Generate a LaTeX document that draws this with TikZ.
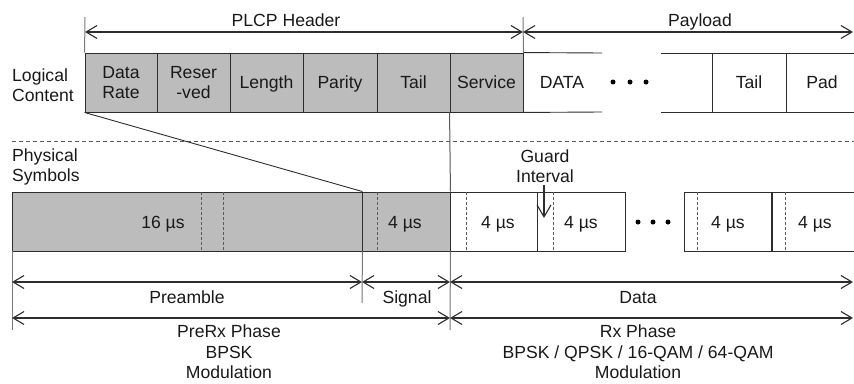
\documentclass[tikz,border=0pt]{standalone}
\usepackage{fontspec}
\setmainfont{Liberation Sans}
\usetikzlibrary{arrows.meta}
\definecolor{boxgray}{RGB}{188,188,188}
\definecolor{linec}{RGB}{45,45,45}
\definecolor{tickc}{RGB}{120,120,120}
\definecolor{dashc}{RGB}{90,90,90}
\begin{document}
\begin{tikzpicture}[x=1pt,y=-1pt,
  every node/.style={font=\fontsize{17.6}{20.5}\selectfont, inner sep=0pt, text=black!90},
  lbl/.style={text height=12.6pt, text depth=0pt},
  field/.style={draw=linec, line width=0.9pt, minimum height=59pt, fill=boxgray},
  wbox/.style={draw=linec, line width=0.9pt, minimum height=59pt},
  edge/.style={draw=linec, line width=0.9pt},
  tickl/.style={draw=tickc, line width=1pt},
  dashl/.style={draw=dashc, line width=0.8pt, dash pattern=on 3pt off 2pt},
  sepl/.style={draw=dashc, line width=0.9pt, dash pattern=on 4pt off 3pt},
  dim/.style={draw=linec, line width=1.1pt, {Straight Barb[length=11pt,width=13pt]}-{Straight Barb[length=11pt,width=13pt]}},
  dotn/.style={circle, fill=black, minimum size=5pt, inner sep=0pt}
]
\useasboundingbox (0,0) rectangle (854,383);

% ---------- Logical content ----------
\node[align=left, anchor=west] (logical) at (12,85) {Logical\\Content};
\node[field, minimum width=72pt, align=center] (f1) at (121,82.5) {Data\\Rate};
\node[field, minimum width=73pt, align=center] (f2) at (193.5,82.5) {Reser\\-ved};
\node[field, minimum width=73pt, lbl] (f3) at (266.5,82.5) {Length};
\node[field, minimum width=74pt, lbl] (f4) at (340,82.5) {Parity};
\node[field, minimum width=73pt, lbl] (f5) at (413.5,82.5) {Tail};
\node[field, minimum width=73pt, lbl] (f6) at (486.5,82.5) {Service};

\coordinate (p1t) at (602,53); \coordinate (p1b) at (602,112);
\coordinate (p2lt) at (661,53); \coordinate (p2lb) at (661,112);
\coordinate (p2rt) at (854,53); \coordinate (p2rb) at (854,112);
\draw[edge] (f6.north east) -- (p1t);
\draw[edge] (f6.south east) -- (p1b);
\draw[edge] (p2lt) -- (p2rt);
\draw[edge] (p2lb) -- (p2rb);
\coordinate (v1t) at (712,53); \coordinate (v1b) at (712,112);
\coordinate (v2t) at (786,53); \coordinate (v2b) at (786,112);
\draw[edge] (v1t) -- (v1b);
\draw[edge] (v2t) -- (v2b);
\node[lbl] (tdata) at (562,82.5) {DATA};
\node[lbl] (ttail) at (749,82.5) {Tail};
\node[lbl] (tpad) at (822,82.5) {Pad};
\node[dotn] (ld1) at (613,82) {};
\node[dotn] (ld2) at (630,82) {};
\node[dotn] (ld3) at (646,82) {};

% ---------- top dimension ----------
\coordinate (tk1a) at (85,17); \coordinate (tk2a) at (523,17);
\draw[tickl] (tk1a) -- (f1.north west);
\draw[tickl] (tk2a) -- (f6.north east);
\coordinate (plcpL) at (85,32); \coordinate (plcpR) at (523,32);
\coordinate (payR) at (853,32);
\draw[dim] (plcpL) -- (plcpR);
\draw[dim] (plcpR) -- (payR);
\node[lbl] (tplcp) at (286,20) {PLCP Header};
\node[lbl] (tpay) at (700,20) {Payload};

% ---------- separator ----------
\coordinate (sepL) at (12,141); \coordinate (sepR) at (854,141);
\draw[sepl] (sepL) -- (sepR);

% ---------- Physical symbols ----------
\node[align=left, anchor=west] (physical) at (12,167) {Physical\\Symbols};
\node[field, minimum width=350pt] (pre) at (187,221.5) {};
\node[field, minimum width=88pt] (sig) at (406,221.5) {};
\node[wbox, minimum width=175pt] (d1) at (537.5,221.5) {};
\coordinate (d2lt) at (684,192); \coordinate (d2lb) at (684,251);
\coordinate (d2rt) at (854,192); \coordinate (d2rb) at (854,251);
\draw[edge] (d2rt) -- (d2lt) -- (d2lb) -- (d2rb);

\foreach \x/\n in {201/a,223/b,377/c,466/d,553/e,697/f,785/g}{
  \coordinate (dt\n) at (\x,192); \coordinate (db\n) at (\x,251);
  \draw[dashl] (dt\n) -- (db\n);
}
\coordinate (s1t) at (537,192); \coordinate (s1b) at (537,251);
\coordinate (s2t) at (772,192); \coordinate (s2b) at (772,251);
\draw[edge] (s1t) -- (s1b);
\draw[edge, line width=1.3pt] (s2t) -- (s2b);

\node[lbl] (t16) at (163,222) {16 µs};
\node[lbl] (t4a) at (405,222) {4 µs};
\node[lbl] (t4b) at (498,222) {4 µs};
\node[lbl] (t4c) at (581,222) {4 µs};
\node[lbl] (t4d) at (728,222) {4 µs};
\node[lbl] (t4e) at (815,222) {4 µs};
\node[dotn] (pd1) at (638,222) {};
\node[dotn] (pd2) at (653,222) {};
\node[dotn] (pd3) at (668,222) {};

% mapping lines
\draw[edge] (f1.south west) -- (pre.north east);
\draw[tickl, draw=linec!80] (f6.south west) -- (sig.north east);

% guard interval
\node[align=center] (guard) at (545,166) {Guard\\Interval};
\coordinate (gtip) at (544,218);
\draw[draw=linec, line width=1.1pt, -{Straight Barb[length=12pt,width=14pt]}] (guard.south -| gtip) ++(0,2) -- (gtip);

% ---------- bottom dimensions ----------
\coordinate (b1t) at (12,251); \coordinate (b1b) at (12,330);
\coordinate (b2b) at (362,303);
\coordinate (b3b) at (450,330);
\draw[tickl] (b1t) -- (b1b);
\draw[tickl] (pre.south east) -- (b2b);
\draw[tickl] (sig.south east) -- (b3b);

\coordinate (r1a) at (12,282); \coordinate (r1b) at (362,282);
\coordinate (r1c) at (450,282); \coordinate (r1d) at (853,282);
\draw[dim] (r1a) -- (r1b);
\draw[dim] (r1b) -- (r1c);
\draw[dim] (r1c) -- (r1d);
\node[lbl] (tpream) at (187,297) {Preamble};
\node[lbl] (tsignal) at (407,297) {Signal};
\node[lbl] (tdatab) at (638,297) {Data};

\coordinate (r2a) at (12,318); \coordinate (r2b) at (450,318);
\coordinate (r2c) at (853,318);
\draw[dim] (r2a) -- (r2b);
\draw[dim] (r2b) -- (r2c);
\node[align=center] (tprerx) at (229,352) {PreRx Phase\\BPSK\\Modulation};
\node[align=center] (trx) at (638,352) {Rx Phase\\BPSK / QPSK / 16-QAM / 64-QAM\\Modulation};
\end{tikzpicture}
\end{document}
